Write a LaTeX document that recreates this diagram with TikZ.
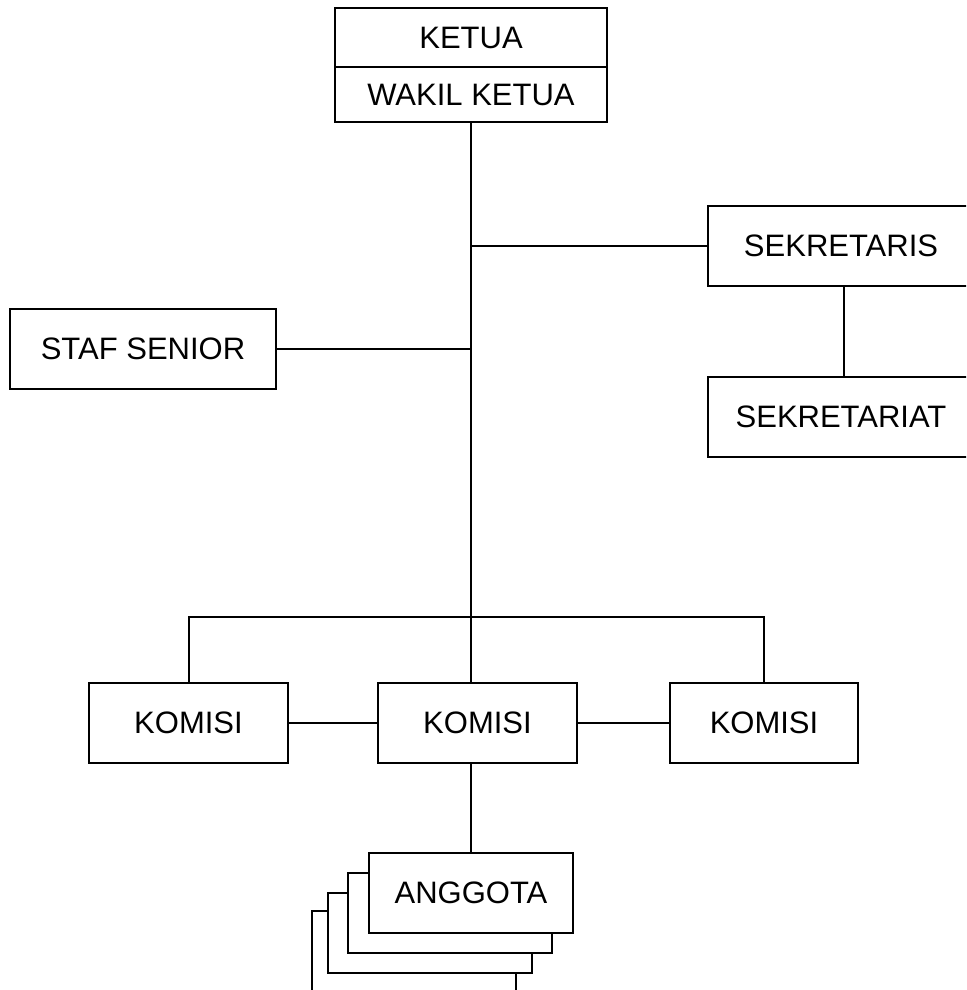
\documentclass[tikz,border=0pt]{standalone}
\usepackage{fontspec}
\setmainfont{Liberation Sans}
\begin{document}
\begin{tikzpicture}[x=1pt,y=-1pt,
  box/.style={draw, line width=2pt, fill=white, inner sep=0pt, align=center,
    font=\fontsize{31}{36}\selectfont},
  ln/.style={line width=2pt}]
\useasboundingbox (0,0) rectangle (966,990);
\clip (0,0) rectangle (966,990);
% top
\node[box, minimum width=272pt, minimum height=59pt] (ketua) at (471,37.5) {KETUA};
\node[box, minimum width=272pt, minimum height=55pt] (wakil) at (471,94.5) {WAKIL KETUA};
\draw[ln] (335,8) rectangle (607,122);
% side boxes
\node[box, minimum width=266pt, minimum height=80pt] (staf) at (143,349) {STAF SENIOR};
\node[box, minimum width=266pt, minimum height=80pt] (sek) at (841,246) {SEKRETARIS};
\node[box, minimum width=266pt, minimum height=80pt] (sekr) at (841,417) {SEKRETARIAT};
% komisi
\node[box, minimum width=199pt, minimum height=80pt] (kL) at (188.5,723) {KOMISI};
\node[box, minimum width=199pt, minimum height=80pt] (kM) at (477.5,723) {KOMISI};
\node[box, minimum width=188pt, minimum height=80pt] (kR) at (764,723) {KOMISI};
% anggota stack
\node[box, minimum width=204pt, minimum height=80pt] (a4) at (414,951) {};
\node[box, minimum width=204pt, minimum height=80pt] (a3) at (430,933) {};
\node[box, minimum width=204pt, minimum height=80pt] (a2) at (450,913) {};
\node[box, minimum width=204pt, minimum height=80pt] (a1) at (471,893) {ANGGOTA};
% connectors
\coordinate (bar) at (471,617);
\draw[ln] (wakil.south) -- (wakil.south |- kM.north);
\draw[ln] (sek.west) -- (sek.west -| wakil.south);
\draw[ln] (staf.east) -- (staf.east -| wakil.south);
\draw[ln] (sek.south -| 844,0) -- (sekr.north -| 844,0);
\draw[ln] (kL.north) -- (kL.north |- bar) -- (kR.north |- bar) -- (kR.north);
\draw[ln] (kL.east) -- (kM.west);
\draw[ln] (kM.east) -- (kR.west);
\draw[ln] (kM.south -| a1.north) -- (a1.north);
\end{tikzpicture}
\end{document}
